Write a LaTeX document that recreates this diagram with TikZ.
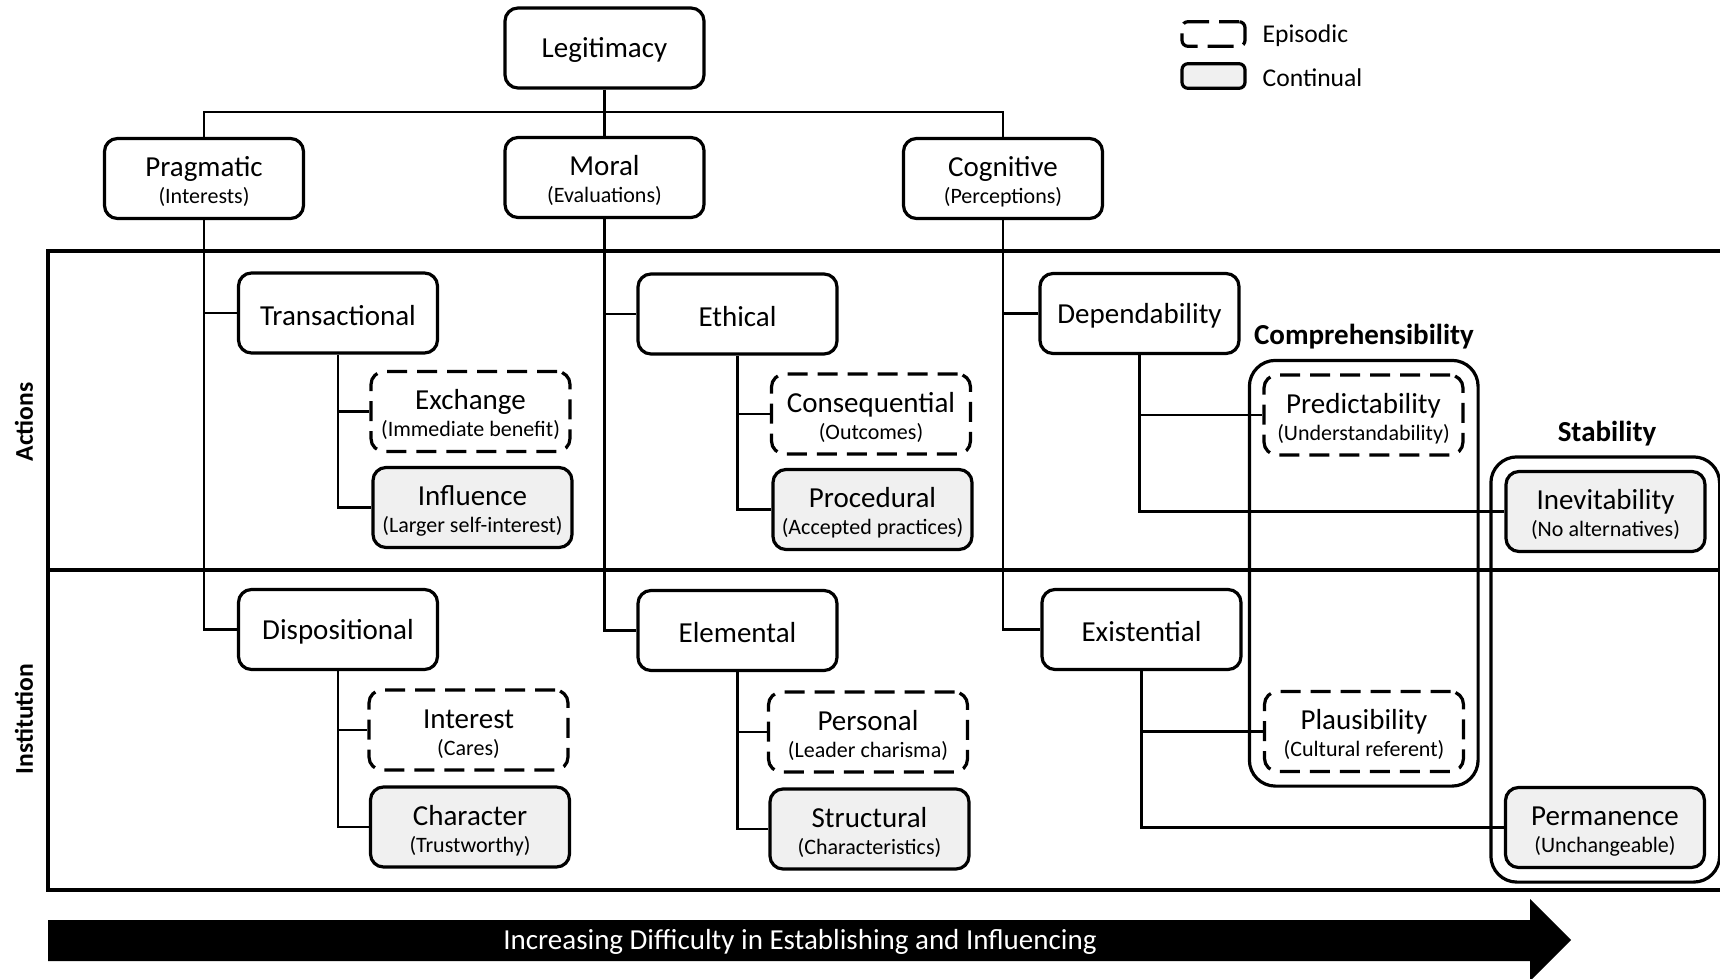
\documentclass[tikz,border=0pt]{standalone}
\usepackage{fontspec}
\setmainfont{Carlito}
\usetikzlibrary{fit,positioning}
\newcommand{\twoline}[2]{\rule{0pt}{13.4pt}#1\\[-3.5pt]{\fontsize{11pt}{13pt}\selectfont(#2)}}
\tikzset{
  box/.style={draw, line width=1.6pt, rounded corners=6.5pt, minimum width=99.5pt,
    minimum height=40pt, inner sep=0pt, align=center, font=\fontsize{14.5pt}{17pt}\selectfont,
    execute at begin node={\rule{0pt}{12.3pt}}},
  episodic/.style={box, dash pattern=on 10pt off 5pt, fill=white},
  continual/.style={box, fill=gray!12},
  group/.style={draw, line width=1.6pt, rounded corners=13pt, inner sep=6.5pt},
  conn/.style={line width=1.3pt},
  frame/.style={line width=2.2pt},
  tag/.style={font=\bfseries\fontsize{14.5pt}{17pt}\selectfont},
  side/.style={rotate=90, font=\bfseries\fontsize{12.8pt}{15pt}\selectfont},
  key/.style={font=\fontsize{12.8pt}{15pt}\selectfont, right=4.5pt of #1, yshift=-1pt},
}
\begin{document}
\begin{tikzpicture}[x=0.5pt,y=-0.5pt]
\useasboundingbox (0,0) rectangle (1720,979);
% rows: actions / institution
\draw[frame] (1730,251) -- (48,251) -- (48,890) -- (1730,890);
\draw[frame] (48,570) -- (1730,570);
\node[side] (act) at (24,422) {Actions};
\node[side] (inst) at (24,719) {Institution};

% legend
\node[box, dash pattern=on 13pt off 5pt, dash phase=3pt, minimum width=31.5pt, minimum height=10.5pt, rounded corners=3pt] (lepi) at (1213.5,34) {};
\node[key=lepi] (tepi) {Episodic};
\node[continual, minimum width=31.5pt, minimum height=10.5pt, rounded corners=3pt] (lcon) at (1213.5,76) {};
\node[key=lcon] (tcon) {Continual};

% top levels
\node[box] (legit) at (604.5,48) {Legitimacy};
\node[box] (prag) at (204,178.5) {\twoline{Pragmatic}{Interests}};
\node[box] (moral) at (604.5,177.5) {\twoline{Moral}{Evaluations}};
\node[box] (cog) at (1003,178.5) {\twoline{Cognitive}{Perceptions}};

\node[box] (trans) at (338,313) {Transactional};
\node[box] (ethic) at (737.5,314) {Ethical};
\node[box] (dep) at (1139.5,313.5) {Dependability};
\node[box] (disp) at (338,629.5) {Dispositional};
\node[box] (elem) at (737.5,630.5) {Elemental};
\node[box] (exist) at (1141.5,629.5) {Existential};

% leaves
\node[episodic] (exch) at (470.5,411.5) {\twoline{Exchange}{Immediate benefit}};
\node[continual] (infl) at (472.5,507.5) {\twoline{Influence}{Larger self-interest}};
\node[episodic] (conseq) at (871,414) {\twoline{Consequential}{Outcomes}};
\node[continual] (proc) at (872.5,509.5) {\twoline{Procedural}{Accepted practices}};
\node[episodic] (pred) at (1363.5,415) {\twoline{Predictability}{Understandability}};
\node[continual] (inev) at (1605.5,511.5) {\twoline{Inevitability}{No alternatives}};
\node[episodic] (inter) at (468.5,730) {\twoline{Interest}{Cares}};
\node[continual] (charac) at (470,827) {\twoline{Character}{Trustworthy}};
\node[episodic] (pers) at (868,732) {\twoline{Personal}{Leader charisma}};
\node[continual] (struct) at (869.5,829) {\twoline{Structural}{Characteristics}};
\node[episodic] (plaus) at (1364,731.5) {\twoline{Plausibility}{Cultural referent}};
\node[continual] (perm) at (1605,827.5) {\twoline{Permanence}{Unchangeable}};

% groups
\node[group, fit=(pred)(plaus)] (comp) {};
\node[group, fit=(inev)(perm)] (stab) {};
\node[tag] (tcomp) at (1364,337) {Comprehensibility};
\node[tag] (tstab) at (1607,434) {Stability};

% connectors
\coordinate (bus) at (604.5,112);
\draw[conn] (prag.north) |- (bus) -| (cog.north);
\draw[conn] (legit) -- (moral);
\draw[conn] (prag.south) |- (disp.west);
\draw[conn] (prag.south |- trans.west) -- (trans.west);
\draw[conn] (moral.south) |- (elem.west);
\draw[conn] (moral.south |- ethic.west) -- (ethic.west);
\draw[conn] (cog.south) |- (exist.west);
\draw[conn] (cog.south |- dep.west) -- (dep.west);
\draw[conn] (trans.south) |- (infl.west);
\draw[conn] (trans.south |- exch.west) -- (exch.west);
\draw[conn] (ethic.south) |- (proc.west);
\draw[conn] (ethic.south |- conseq.west) -- (conseq.west);
\draw[conn] (dep.south) |- (inev.west);
\draw[conn] (dep.south |- pred.west) -- (pred.west);
\draw[conn] (disp.south) |- (charac.west);
\draw[conn] (disp.south |- inter.west) -- (inter.west);
\draw[conn] (elem.south) |- (struct.west);
\draw[conn] (elem.south |- pers.west) -- (pers.west);
\draw[conn] (exist.south) |- (perm.west);
\draw[conn] (exist.south |- plaus.west) -- (plaus.west);

% difficulty arrow
\fill (48,920) -- (1530,920) -- (1530,899) -- (1571,940) -- (1530,981) -- (1530,961) -- (48,961) -- cycle;
\node[text=white, font=\fontsize{14.5pt}{17pt}\selectfont] (diff) at (800,942) {Increasing Difficulty in Establishing and Influencing};
\end{tikzpicture}
\end{document}
